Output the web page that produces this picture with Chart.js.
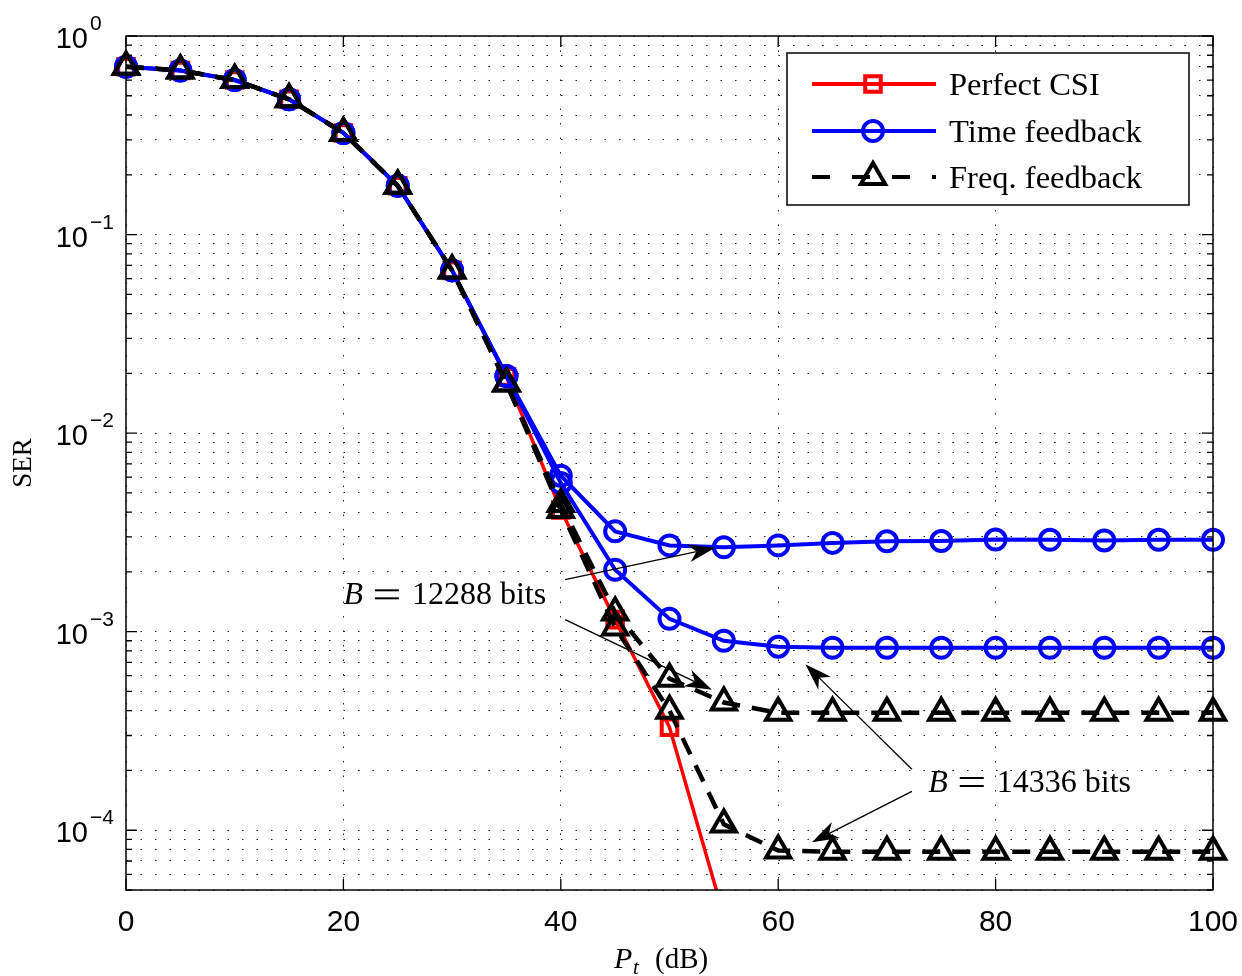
<!DOCTYPE html>
<html>
<head>
<meta charset="utf-8">
<script src="https://cdn.jsdelivr.net/npm/chart.js@4"></script>
<style>
  html, body { margin: 0; padding: 0; background: #fff; }
  #wrap { width: 1242px; height: 976px; }
</style>
</head>
<body>
<div id="wrap"><canvas id="serChart" width="1242" height="976"></canvas></div>
<script>
// SER vs transmit power
const ptValues = [0, 5, 10, 15, 20, 25, 30, 35, 40, 45, 50, 55, 60, 65, 70, 75, 80, 85, 90, 95, 100];

const perfectCSI = [0.70, 0.67, 0.60, 0.48, 0.325, 0.176, 0.066, 0.0192, 0.0041, 0.00115, 0.00033, 0.000037];

const timeB12288 = [0.70, 0.67, 0.60, 0.48, 0.325, 0.176, 0.066, 0.0194, 0.0061, 0.0032, 0.00272, 0.00266,
    0.00272, 0.00280, 0.00285, 0.00286, 0.00291, 0.00290, 0.00288, 0.00290, 0.00290];
const timeB14336 = [0.70, 0.67, 0.60, 0.48, 0.325, 0.176, 0.066, 0.0194, 0.0056, 0.00205, 0.00116, 0.00090,
    0.00084, 0.00083, 0.00083, 0.00083, 0.00083, 0.00083, 0.00083, 0.00083, 0.00083];

const freqB12288 = [0.70, 0.67, 0.60, 0.48, 0.325, 0.176, 0.066, 0.0178, 0.0044, 0.00125, 0.00058, 0.00044,
    0.00039, 0.00039, 0.00039, 0.00039, 0.00039, 0.00039, 0.00039, 0.00039, 0.00039];
const freqB14336 = [0.70, 0.67, 0.60, 0.48, 0.325, 0.176, 0.066, 0.0178, 0.0041, 0.00105, 0.00040, 0.000107,
    0.000079, 0.000078, 0.000078, 0.000078, 0.000078, 0.000078, 0.000078, 0.000078, 0.000078];

const xTicks = [0, 20, 40, 60, 80, 100];
const yDecades = [-4, -3, -2, -1, 0];
const yMin = 5e-5;
const yMax = 1;

const legendLabels = ["Perfect CSI", "Time feedback", "Freq. feedback"];

// annotation text + arrows in data coordinates [x, SER]
const notes = [
    { text: "12288", at: [20.0, 1.56e-3], arrows: [[[40.4, 1.83e-3], [54.2, 2.65e-3]], [[40.4, 1.15e-3], [53.9, 5.1e-4]]] },
    { text: "14336", at: [73.8, 1.77e-4], arrows: [[[72.3, 2.03e-4], [62.5, 6.85e-4]], [[72.3, 1.57e-4], [63.1, 8.7e-5]]] }
];

function pairs(ys) {
    return ys.map((y, i) => ({ x: ptValues[i], y: y }));
}

const SANS = "'Liberation Sans', Arial, sans-serif";
const SERIF = "'Liberation Serif', 'Times New Roman', serif";
const DASH = [18, 12];
const CLIP = { left: 20, top: 20, right: 20, bottom: 0 };

const styles = [
    { color: "#ff0000", point: "rect", radius: 11, width: 3.5, dash: [] },
    { color: "#0000ff", point: "circle", radius: 10, width: 4, dash: [] },
    { color: "#000000", point: "triangle", radius: 14, width: 4.5, dash: DASH }
];

function ds(label, ys, s, order) {
    return {
        label: label,
        data: pairs(ys),
        borderColor: s.color,
        borderWidth: s.width,
        borderDash: s.dash,
        pointStyle: s.point,
        pointRadius: s.radius,
        pointHoverRadius: s.radius,
        pointBorderColor: s.color,
        pointBackgroundColor: "rgba(0,0,0,0)",
        pointBorderWidth: 4,
        tension: 0,
        clip: CLIP,
        order: order
    };
}

function arrow(ctx, x0, y0, x1, y1) {
    const ang = Math.atan2(y1 - y0, x1 - x0);
    const len = 27, half = 9, back = 19;
    ctx.beginPath();
    ctx.moveTo(x0, y0);
    ctx.lineTo(x1 - Math.cos(ang) * back, y1 - Math.sin(ang) * back);
    ctx.lineWidth = 1.3;
    ctx.strokeStyle = "#000";
    ctx.stroke();
    const bx = x1 - Math.cos(ang) * len, by = y1 - Math.sin(ang) * len;
    const nx = -Math.sin(ang), ny = Math.cos(ang);
    const mx = x1 - Math.cos(ang) * back, my = y1 - Math.sin(ang) * back;
    ctx.beginPath();
    ctx.moveTo(x1, y1);
    ctx.lineTo(bx + nx * half, by + ny * half);
    ctx.lineTo(mx, my);
    ctx.lineTo(bx - nx * half, by - ny * half);
    ctx.closePath();
    ctx.fillStyle = "#000";
    ctx.fill();
}

function drawMarker(ctx, s, x, y) {
    Chart.helpers.drawPoint(ctx, { pointStyle: s.point, radius: s.radius, borderWidth: 4, rotation: 0 }, x, y);
}

const overlay = {
    id: "overlay",
    afterDraw(chart) {
        const ctx = chart.ctx;
        const a = chart.chartArea;
        const xs = chart.scales.x, ys = chart.scales.y;
        ctx.save();

        // box
        ctx.strokeStyle = "#000";
        ctx.lineWidth = 1.5;
        ctx.setLineDash([]);
        ctx.strokeRect(a.left, a.top, a.right - a.left, a.bottom - a.top);

        // inward ticks
        ctx.lineWidth = 1.3;
        ctx.beginPath();
        xTicks.forEach(v => {
            const px = xs.getPixelForValue(v);
            ctx.moveTo(px, a.bottom); ctx.lineTo(px, a.bottom - 11);
            ctx.moveTo(px, a.top); ctx.lineTo(px, a.top + 11);
        });
        ys.ticks.forEach(t => {
            const py = ys.getPixelForValue(t.value);
            const e = Math.log10(t.value);
            const L = Math.abs(e - Math.round(e)) < 1e-6 ? 11 : 6;
            ctx.moveTo(a.left, py); ctx.lineTo(a.left + L, py);
            ctx.moveTo(a.right, py); ctx.lineTo(a.right - L, py);
        });
        ctx.stroke();

        // tick labels
        ctx.fillStyle = "#000";
        ctx.font = "30px " + SANS;
        ctx.textAlign = "center";
        ctx.textBaseline = "alphabetic";
        xTicks.forEach(v => ctx.fillText(String(v), xs.getPixelForValue(v), 931));
        yDecades.forEach(e => {
            const py = ys.getPixelForValue(Math.pow(10, e));
            ctx.font = "29px " + SANS;
            ctx.textAlign = "right";
            ctx.fillText("10", 88, py + 12);
            ctx.font = "21px " + SANS;
            ctx.textAlign = "left";
            ctx.fillText(e === 0 ? "0" : "\u2212" + (-e), 90, py - 6);
        });

        // axis titles
        ctx.textAlign = "left";
        ctx.font = "italic 30px " + SERIF;
        ctx.fillText("P", 614, 968);
        ctx.font = "italic 21px " + SERIF;
        ctx.fillText("t", 633, 974);
        ctx.font = "29px " + SERIF;
        ctx.fillText("(dB)", 655, 968);

        ctx.save();
        ctx.translate(31, 463);
        ctx.rotate(-Math.PI / 2);
        ctx.textAlign = "center";
        ctx.font = "27px " + SERIF;
        ctx.fillText("SER", 0, 0);
        ctx.restore();

        // annotations
        notes.forEach(n => {
            n.arrows.forEach(ar => {
                arrow(ctx, xs.getPixelForValue(ar[0][0]), ys.getPixelForValue(ar[0][1]),
                    xs.getPixelForValue(ar[1][0]), ys.getPixelForValue(ar[1][1]));
            });
            let px = xs.getPixelForValue(n.at[0]);
            const py = ys.getPixelForValue(n.at[1]) + 11;
            ctx.fillStyle = "#000";
            ctx.textAlign = "left";
            ctx.font = "italic 32px " + SERIF;
            ctx.fillText("B", px, py);
            px += ctx.measureText("B").width + 12;
            // wide math equals sign
            ctx.fillRect(px, py - 15, 24, 2);
            ctx.fillRect(px, py - 7, 24, 2);
            px += 24 + 13;
            ctx.font = "32px " + SERIF;
            ctx.fillText(n.text + " bits", px, py);
        });

        // legend
        const lx = 787, ly = 53, lw = 402, lh = 152;
        ctx.fillStyle = "#fff";
        ctx.fillRect(lx, ly, lw, lh);
        ctx.lineWidth = 1.5;
        ctx.strokeStyle = "#000";
        ctx.strokeRect(lx, ly, lw, lh);
        const rows = [84, 131, 177];
        legendLabels.forEach((lab, i) => {
            const s = styles[i];
            const y = rows[i];
            ctx.save();
            ctx.strokeStyle = s.color;
            ctx.lineWidth = 4;
            ctx.setLineDash(s.dash.length ? [18, 22] : []);
            ctx.beginPath();
            ctx.moveTo(812, y); ctx.lineTo(936, y);
            ctx.stroke();
            ctx.setLineDash([]);
            ctx.strokeStyle = s.color;
            ctx.fillStyle = "rgba(0,0,0,0)";
            ctx.lineWidth = 4;
            drawMarker(ctx, s, 873, y);
            ctx.restore();
            ctx.fillStyle = "#000";
            ctx.font = "32.5px " + SERIF;
            ctx.textAlign = "left";
            ctx.fillText(lab, 949, y + 11);
        });

        ctx.restore();
    }
};

new Chart(document.getElementById("serChart"), {
    type: "line",
    data: {
        datasets: [
            ds("Freq. feedback B=12288", freqB12288, styles[2], 1),
            ds("Freq. feedback B=14336", freqB14336, styles[2], 1),
            ds("Time feedback B=12288", timeB12288, styles[1], 2),
            ds("Time feedback B=14336", timeB14336, styles[1], 2),
            ds("Perfect CSI", perfectCSI, styles[0], 3)
        ]
    },
    options: {
        responsive: false,
        animation: false,
        events: [],
        layout: { padding: { left: 0, top: 36, right: 29, bottom: 0 } },
        plugins: {
            legend: { display: false },
            tooltip: { enabled: false }
        },
        scales: {
            x: {
                type: "linear",
                min: 0,
                max: 100,
                afterBuildTicks: scale => { scale.ticks = xTicks.map(v => ({ value: v })); },
                afterFit: scale => { scale.height = 86; },
                ticks: { display: false },
                grid: { color: "#222", lineWidth: 1, drawTicks: false },
                border: { display: false, dash: [1.5, 13] }
            },
            y: {
                type: "logarithmic",
                min: yMin,
                max: yMax,
                afterBuildTicks: scale => {
                    const t = [];
                    yDecades.concat([-5]).forEach(e => {
                        for (let m = 1; m <= 9; m++) {
                            const v = m * Math.pow(10, e);
                            if (v >= yMin * 0.999 && v <= yMax * 1.001) t.push({ value: v });
                        }
                    });
                    t.sort((p, q) => p.value - q.value);
                    scale.ticks = t;
                },
                afterFit: scale => { scale.width = 126; },
                ticks: { display: false },
                grid: { color: "#222", lineWidth: 1, drawTicks: false },
                border: { display: false, dash: [1.5, 13] }
            }
        }
    },
    plugins: [overlay]
});
</script>
</body>
</html>
